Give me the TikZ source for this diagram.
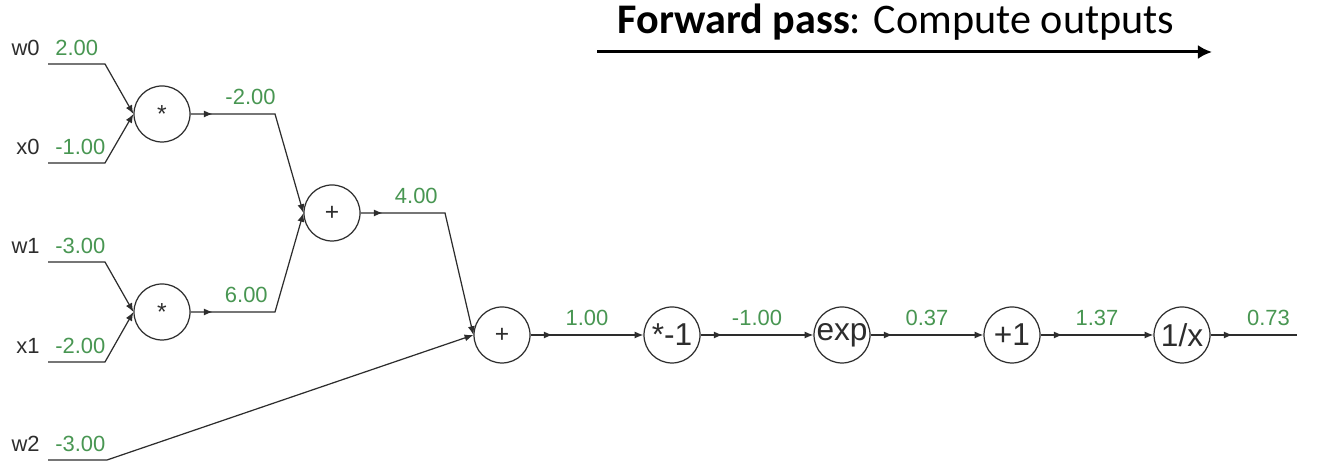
\documentclass[tikz,border=0pt]{standalone}
\usepackage{fontspec}
\setmainfont{Liberation Sans}
\newfontfamily\titlefont{Carlito}
\usetikzlibrary{arrows.meta,positioning,decorations.markings}
\usepackage{xcolor}
\definecolor{valgreen}{RGB}{72,150,82}
\definecolor{wiregray}{RGB}{45,45,45}

\begin{document}
\begin{tikzpicture}[
    gate/.style={
        circle,
        draw=wiregray,
        line width=0.7pt,
        minimum size=1.12cm,
        inner sep=-9pt,
        text=wiregray,
        font=\fontsize{18}{20}\selectfont
    },
    smallgate/.style={gate, font=\fontsize{14}{16}\selectfont},
    varlabel/.style={inner sep=0pt, text=wiregray, font=\fontsize{12.5}{14}\selectfont},
    numlabel/.style={inner sep=0pt, text=valgreen, font=\fontsize{12.5}{14}\selectfont},
    wire/.style={draw=wiregray, line width=0.7pt, -{Latex[length=5pt,width=4pt]}},
    outwire/.style={wire, postaction={decorate}, decoration={markings,
        mark=at position 0.44cm with {\arrow{Latex[length=5pt,width=4pt]}}}}
]
    \useasboundingbox (0, 0) rectangle (26.48, 9.28);

    % title and direction arrow
    \node (fwd_title) [inner sep=0pt, font=\titlefont\fontsize{24}{27}\selectfont, shift={(17.92, 8.84)}]
    {
        \textbf{Forward pass}: Compute outputs
    };
    \coordinate (fwd_start) at (11.94, 8.24);
    \coordinate (fwd_end) at (24.24, 8.24);
    \draw[-{Latex[length=8pt,width=8pt]}, line width=1.7pt] (fwd_start) -- (fwd_end);

    % gates
    \node (mul0) [smallgate, shift={(3.24, 7.00)}]
    {
        \raisebox{-0.35ex}{*}
    };
    \node (mul1) [smallgate, shift={(3.24, 3.04)}]
    {
        \raisebox{-0.35ex}{*}
    };
    \node (add0) [smallgate, shift={(6.64, 5.02)}]
    {
        +
    };
    \node (add1) [smallgate, shift={(10.04, 2.58)}]
    {
        +
    };
    \node (neg) [gate, shift={(13.44, 2.58)}]
    {
        *-1
    };
    \node (expo) [gate, shift={(16.84, 2.58)}]
    {
        exp
    };
    \node (plus1) [gate, shift={(20.24, 2.58)}]
    {
        +1
    };
    \node (recip) [gate, shift={(23.64, 2.58)}]
    {
        1/x
    };

    % inputs
    \coordinate (w0_in) at (0.96, 8.00);
    \coordinate (w0_bend) at (2.10, 8.00);
    \coordinate (x0_in) at (0.96, 6.02);
    \coordinate (x0_bend) at (2.10, 6.02);
    \coordinate (w1_in) at (0.96, 4.04);
    \coordinate (w1_bend) at (2.10, 4.04);
    \coordinate (x1_in) at (0.96, 2.04);
    \coordinate (x1_bend) at (2.10, 2.04);
    \coordinate (w2_in) at (0.96, 0.08);
    \coordinate (w2_bend) at (2.14, 0.08);

    \node (w0_name) [varlabel, above left=0.16cm and 0.16cm of w0_in] {w0};
    \node (w0_val) [numlabel, above right=0.16cm and 0.14cm of w0_in] {2.00};
    \node (x0_name) [varlabel, above left=0.16cm and 0.16cm of x0_in] {x0};
    \node (x0_val) [numlabel, above right=0.16cm and 0.14cm of x0_in] {-1.00};
    \node (w1_name) [varlabel, above left=0.16cm and 0.16cm of w1_in] {w1};
    \node (w1_val) [numlabel, above right=0.16cm and 0.14cm of w1_in] {-3.00};
    \node (x1_name) [varlabel, above left=0.16cm and 0.16cm of x1_in] {x1};
    \node (x1_val) [numlabel, above right=0.16cm and 0.14cm of x1_in] {-2.00};
    \node (w2_name) [varlabel, above left=0.16cm and 0.16cm of w2_in] {w2};
    \node (w2_val) [numlabel, above right=0.16cm and 0.14cm of w2_in] {-3.00};

    \draw[wire] (w0_in) -- (w0_bend) -- (mul0.west);
    \draw[wire] (x0_in) -- (x0_bend) -- (mul0.west);
    \draw[wire] (w1_in) -- (w1_bend) -- (mul1.west);
    \draw[wire] (x1_in) -- (x1_bend) -- (mul1.west);
    \draw[wire] (w2_in) -- (w2_bend) -- (add1.west);

    % forward values
    \coordinate (mul0_bend) at (5.50, 7.00);
    \coordinate (mul1_bend) at (5.50, 3.04);
    \coordinate (add0_bend) at (8.90, 5.02);
    \coordinate (out_end) at (25.94, 2.58);

    \draw[outwire] (mul0.east) -- node (mul0_val) [numlabel, pos=0.71, above=0.17cm] {-2.00} (mul0_bend) -- (add0.west);
    \draw[outwire] (mul1.east) -- node (mul1_val) [numlabel, pos=0.66, above=0.17cm] {6.00} (mul1_bend) -- (add0.west);
    \draw[outwire] (add0.east) -- node (add0_val) [numlabel, pos=0.66, above=0.17cm] {4.00} (add0_bend) -- (add1.west);
    \draw[outwire] (add1.east) -- node (add1_val) [numlabel, above=0.17cm] {1.00} (neg.west);
    \draw[outwire] (neg.east) -- node (neg_val) [numlabel, above=0.17cm] {-1.00} (expo.west);
    \draw[outwire] (expo.east) -- node (expo_val) [numlabel, above=0.17cm] {0.37} (plus1.west);
    \draw[outwire] (plus1.east) -- node (plus1_val) [numlabel, above=0.17cm] {1.37} (recip.west);
    \draw[outwire, -] (recip.east) -- node (recip_val) [numlabel, pos=0.67, above=0.17cm] {0.73} (out_end);
\end{tikzpicture}
\end{document}
